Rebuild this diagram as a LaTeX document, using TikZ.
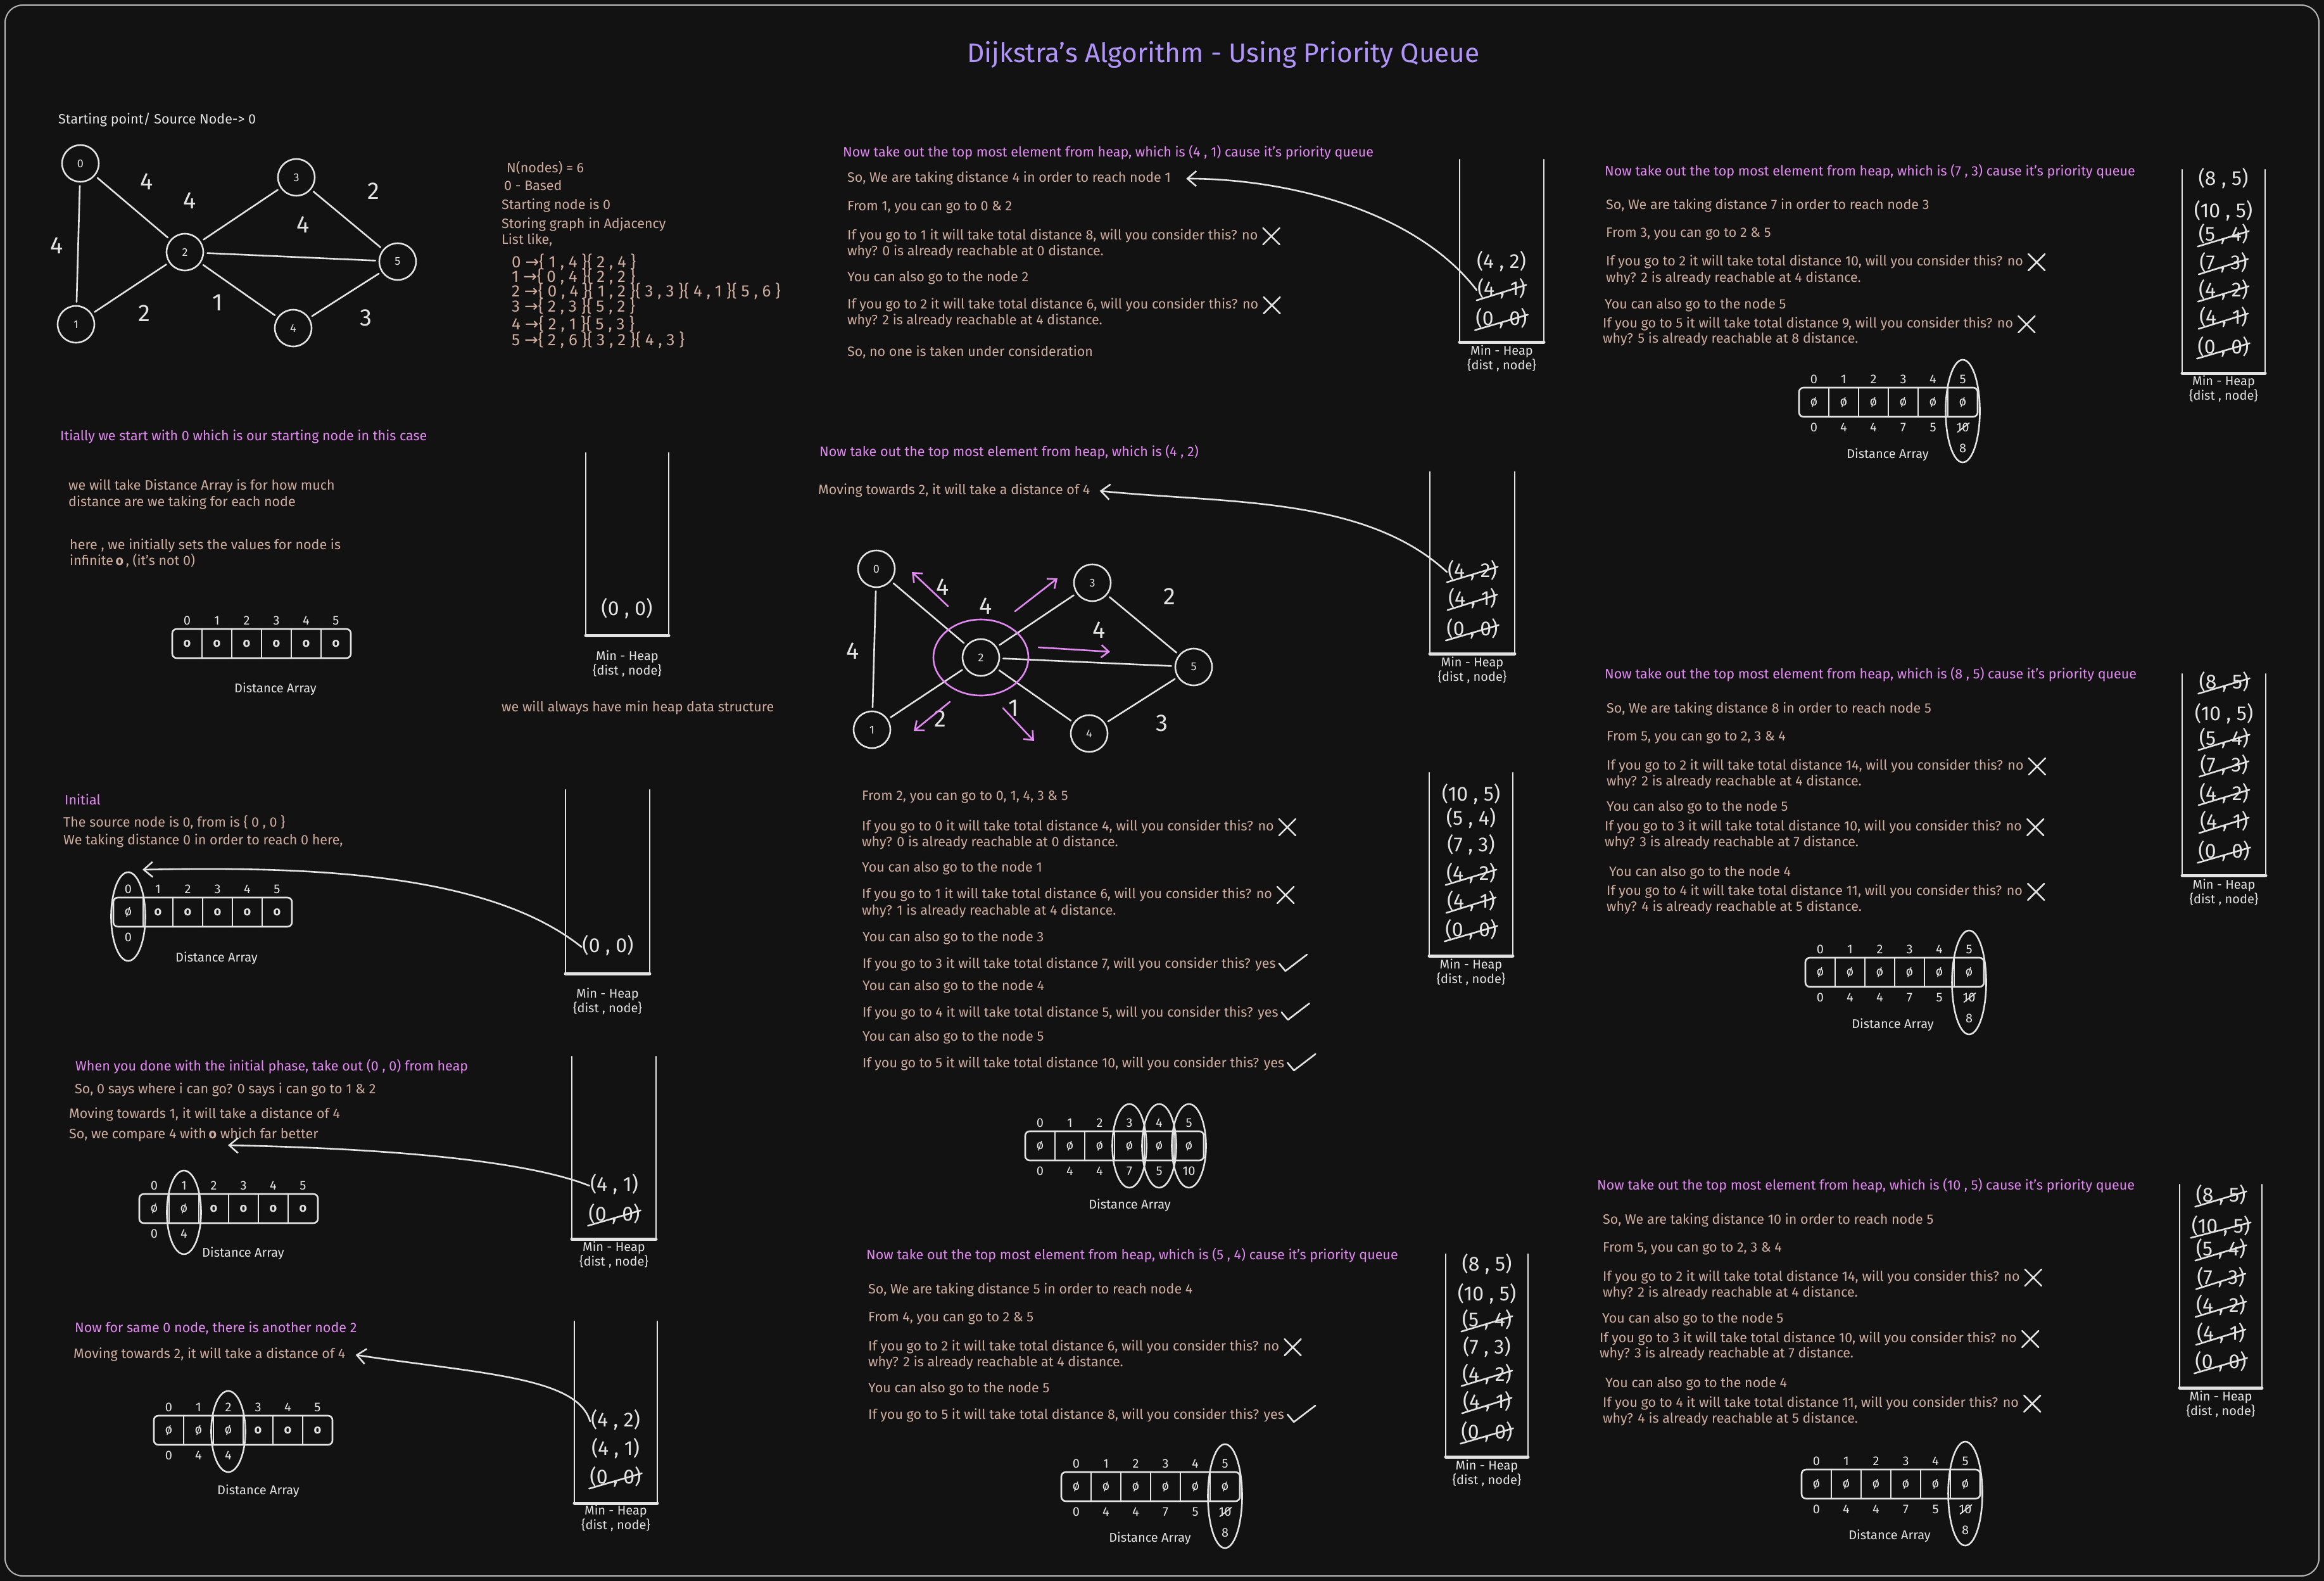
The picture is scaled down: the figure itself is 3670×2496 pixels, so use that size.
\documentclass[tikz,border=0pt]{standalone}
\usepackage{fontspec}
\setmainfont{Fira Sans}
\newfontfamily\symfont{DejaVu Sans}
\usetikzlibrary{positioning,calc,arrows.meta}

\definecolor{board}{HTML}{121212}
\definecolor{chalk}{HTML}{E3E3E3}
\definecolor{sand}{RGB}{206,172,158}
\definecolor{orchid}{RGB}{226,136,242}
\definecolor{lavender}{RGB}{176,148,250}

\newcommand{\infy}{\textbf{o}}
\newcommand{\goesto}{{\symfont →}}

\tikzset{
  chalkline/.style={draw=chalk, line width=2.6pt, line cap=round, line join=round},
  body/.style={anchor=west, inner sep=0pt, text=sand, font=\fontsize{21.5}{26}\selectfont, text height=15pt, text depth=4.5pt},
  head/.style={body, text=orchid},
  whitetxt/.style={body, text=chalk},
  adj/.style={body, font=\fontsize{26}{30}\selectfont},
  headline/.style={text=lavender, font=\fontsize{42.5}{50}\selectfont},
  entry/.style={text=chalk, inner sep=1pt, font=\fontsize{32}{38}\selectfont, text height=23pt, text depth=7pt},
  heaplabel/.style={text=chalk, inner sep=0pt, font=\fontsize{20}{24}\selectfont, text height=14pt, text depth=4pt},
  idx/.style={text=chalk, inner sep=1pt, font=\fontsize{20}{24}\selectfont},
  vertex/.style={circle, draw=chalk, line width=2.6pt, minimum size=58pt, inner sep=0pt, text=chalk, font=\fontsize{18}{20}\selectfont},
  weight/.style={text=chalk, font=\fontsize{38}{44}\selectfont},
  backarrow/.style={chalkline, -{Straight Barb[length=14pt,width=24pt]}},
  pinkarrow/.style={draw=orchid, line width=2.6pt, line cap=round, -{Straight Barb[length=12pt,width=20pt]}},
}

% the six node graph
\newcommand{\sixgraph}[1]{%
  \node[vertex] (#1n0) at (127,258) {0};
  \node[vertex] (#1n1) at (120,512) {1};
  \node[vertex] (#1n2) at (292,398) {2};
  \node[vertex] (#1n3) at (468,280) {3};
  \node[vertex] (#1n4) at (463,518) {4};
  \node[vertex] (#1n5) at (628,413) {5};
  \foreach \u/\v in {0/1,0/2,1/2,2/3,2/4,2/5,3/5,4/5}
    \draw[chalkline, shorten <=5pt, shorten >=5pt] (#1n\u) -- (#1n\v);
  \node[weight] (#1w01) at (90,388) {4};
  \node[weight] (#1w02) at (232,287) {4};
  \node[weight] (#1w23) at (300,317) {4};
  \node[weight] (#1w35) at (590,302) {2};
  \node[weight] (#1w25) at (479,355) {4};
  \node[weight] (#1w12) at (228,495) {2};
  \node[weight] (#1w24) at (344,478) {1};
  \node[weight] (#1w45) at (578,502) {3};
}
% heap container with its caption
\newcommand{\minheap}[6]{% prefix, left x, right x, top y, bottom y, caption y
  \draw[chalkline] (#2,#4) -- (#2,#5) (#3,#4) -- (#3,#5);
  \draw[chalkline, line width=5pt] (#2,#5) -- (#3,#5);
  \node[heaplabel] (#1cap) at ({(#2+#3)/2},#6) {Min - Heap};
  \node[heaplabel, below=5pt of #1cap] (#1sub) {\{dist , node\}};
}
\newcommand{\heapitems}[3]{% prefix, centre x, dist/node/y/struck
  \foreach \dv/\nv/\yv/\sv [count=\k] in {#3} {
    \node[entry] (#1e\k) at (#2,\yv) {(\dv{} , \nv)};
    \ifnum\sv=1
      \draw[chalkline] (#1e\k.south west) -- ($(#1e\k.north east)+(0,8)$);
    \fi
  }
}
% distance array
\newcommand{\distarray}[4]{% prefix, left x, top y, cell values
  \draw[chalkline, rounded corners=7pt] (#2,#3) rectangle ++(282,46);
  \foreach \c [count=\i from 0] in {#4} {
    \node[idx] (#1i\i) at (#2+23.5+47*\i,#3-13) {\i};
    \node[idx] (#1c\i) at (#2+23.5+47*\i,#3+23) {\c};
    \ifnum\i>0 \draw[chalkline] (#2+47*\i,#3) -- ++(0,46);\fi
  }
}
\newcommand{\distvalues}[4]{% prefix, left x, top y, distances
  \foreach \b [count=\i from 0] in {#4}
    \node[idx] (#1b\i) at (#2+23.5+47*\i,#3+63) {\b};
}
\newcommand{\pickcol}[4]{% prefix, column, shift down, y radius
  \draw[chalkline] ($(#1c#2)+(0,#3)$) ellipse [x radius=27, y radius=#4];
}
\newcommand{\fivetoeight}[1]{% 10 crossed out, 8 below
  \draw[chalkline, line width=1.8pt] ($(#1b5.south west)+(3,-1)$) -- ($(#1b5.north east)+(-1,1)$);
  \node[idx] (#1b5new) at ($(#1b5)+(0,33)$) {8};
}
\newcommand{\nomark}[1]{% cross after a line
  \draw[chalkline] ($(#1.east)+(8,-13)$) -- ++(26,26) ($(#1.east)+(8,13)$) -- ++(26,-26);
}
\newcommand{\yesmark}[1]{% tick after a line
  \draw[chalkline] ($(#1.east)+(5,-2)$) -- ++(10,12) -- ++(34,-26);
}

\begin{document}
\begin{tikzpicture}[x=1pt, y=-1pt]
\useasboundingbox (0,0) rectangle (3670,2496);
\fill[board] (0,0) rectangle (3670,2496);
\draw[draw=chalk!80!board, line width=2pt, rounded corners=28pt] (8,8) rectangle (3662,2488);

\node[headline] (title) at (1932,86) {Dijkstra's Algorithm - Using Priority Queue};

% graph and adjacency list
\node[whitetxt] (start) at (92,190) {Starting point/ Source Node-> 0};
\sixgraph{A}
\node[body] (Ak1) at (800,267) {N(nodes) = 6};
\node[body] (Ak2) at (796,295) {0 - Based};
\node[body] (Ak3) at (792,325) {Starting node is 0};
\node[body] (Ak4) at (792,355) {Storing graph in Adjacency};
\node[body] (Ak5) at (792,380) {List like,};
\node[adj] (Al0) at (808,417) {0 \goesto\{ 1 , 4 \}\{ 2 , 4 \}};
\node[adj] (Al1) at (808,440) {1 \goesto\{ 0 , 4 \}\{ 2 , 2 \}};
\node[adj] (Al2) at (808,463) {2 \goesto\{ 0 , 4 \}\{ 1 , 2 \}\{ 3 , 3 \}\{ 4 , 1 \}\{ 5 , 6 \}};
\node[adj] (Al3) at (808,487) {3 \goesto\{ 2 , 3 \}\{ 5 , 2 \}};
\node[adj] (Al4) at (808,515) {4 \goesto\{ 2 , 1 \}\{ 5 , 3 \}};
\node[adj] (Al5) at (808,540) {5 \goesto\{ 2 , 6 \}\{ 3 , 2 \}\{ 4 , 3 \}};

% pop (4,1)
\node[head] (Bh) at (1331,242) {Now take out the top most element from heap, which is (4 , 1) cause it's priority queue};
\node[body] (Bt1) at (1338,282) {So, We are taking distance 4 in order to reach node 1};
\node[body] (Bt2) at (1338,327) {From 1, you can go to 0 \& 2};
\node[body] (Bt3) at (1338,373) {If you go to 1 it will take total distance 8, will you consider this? no};
\node[body] (Bt4) at (1338,398) {why? 0 is already reachable at 0 distance.};
\node[body] (Bt5) at (1338,439) {You can also go to the node 2};
\node[body] (Bt6) at (1338,482) {If you go to 2 it will take total distance 6, will you consider this? no};
\node[body] (Bt7) at (1338,507) {why? 2 is already reachable at 4 distance.};
\node[body] (Bt8) at (1338,557) {So, no one is taken under consideration};
\nomark{Bt3} \nomark{Bt6}
\minheap{B}{2305}{2438}{252}{540}{555}
\heapitems{B}{2371}{4/2/415/0, 4/1/458/1, 0/0/505/1}
\draw[backarrow] (Be2.west) .. controls +(-100,-130) and +(150,0) .. ($(Bt1.east)+(24,0)$);

% pop (7,3)
\node[head] (Ch) at (2534,272) {Now take out the top most element from heap, which is (7 , 3) cause it's priority queue};
\node[body] (Ct1) at (2536,325) {So, We are taking distance 7 in order to reach node 3};
\node[body] (Ct2) at (2536,369) {From 3, you can go to 2 \& 5};
\node[body] (Ct3) at (2536,414) {If you go to 2 it will take total distance 10, will you consider this? no};
\node[body] (Ct4) at (2536,440) {why? 2 is already reachable at 4 distance.};
\node[body] (Ct5) at (2534,482) {You can also go to the node 5};
\node[body] (Ct6) at (2531,512) {If you go to 5 it will take total distance 9, will you consider this? no};
\node[body] (Ct7) at (2531,536) {why? 5 is already reachable at 8 distance.};
\nomark{Ct3} \nomark{Ct6}
\minheap{C}{3446}{3577}{268}{589}{603}
\heapitems{C}{3511}{8/5/285/0, 10/5/336/0, 5/4/373/1, 7/3/417/1, 4/2/460/1, 4/1/503/1, 0/0/550/1}
\distarray{C}{2841}{612}{ø,ø,ø,ø,ø,ø}
\distvalues{C}{2841}{612}{0,4,4,7,5,10}
\fivetoeight{C}
\pickcol{C}{5}{14}{81}
\node[idx] (Clab) at (2981,718) {Distance Array};

% start with node 0
\node[head] (Dh) at (95,690) {Itially we start with 0 which is our starting node in this case};
\node[body] (Dt1) at (108,768) {we will take Distance Array is for how much};
\node[body] (Dt2) at (108,794) {distance are we taking for each node};
\node[body] (Dt3) at (110,862) {here , we initially sets the values for node is};
\node[body] (Dt4) at (110,887) {infinite\,\infy\,, (it's not 0)};
\node[body] (Dt5) at (792,1118) {we will always have min heap data structure};
\minheap{D}{925}{1056}{715}{1003}{1037}
\heapitems{D}{990}{0/0/963/0}
\distarray{D}{272}{993}{\infy,\infy,\infy,\infy,\infy,\infy}
\node[idx] (Dlab) at (435,1088) {Distance Array};

% pop (4,2)
\node[head] (Eh) at (1294,715) {Now take out the top most element from heap, which is (4 , 2)};
\node[body] (Et1) at (1292,775) {Moving towards 2, it will take a distance of 4};
\begin{scope}[shift={(1257,640)}]
  \sixgraph{E}
\end{scope}
\draw[draw=orchid, line width=2.6pt] (En2) ellipse [x radius=75, y radius=60];
\draw[pinkarrow] (1497,957) -- (1440,903);
\draw[pinkarrow] (1603,965) -- (1670,913);
\draw[pinkarrow] (1640,1022) -- (1753,1029);
\draw[pinkarrow] (1500,1108) -- (1443,1154);
\draw[pinkarrow] (1584,1118) -- (1633,1170);
\minheap{E}{2258}{2392}{745}{1032}{1047}
\heapitems{E}{2325}{4/2/903/1, 4/1/947/1, 0/0/995/1}
\draw[backarrow] (Ee1.west) .. controls +(-130,-120) and +(200,20) .. ($(Et1.east)+(15,0)$);

% pop (8,5)
\node[head] (Fh) at (2534,1066) {Now take out the top most element from heap, which is (8 , 5) cause it's priority queue};
\node[body] (Ft1) at (2537,1120) {So, We are taking distance 8 in order to reach node 5};
\node[body] (Ft2) at (2537,1164) {From 5, you can go to 2, 3 \& 4};
\node[body] (Ft3) at (2537,1210) {If you go to 2 it will take total distance 14, will you consider this? no};
\node[body] (Ft4) at (2537,1235) {why? 2 is already reachable at 4 distance.};
\node[body] (Ft5) at (2537,1275) {You can also go to the node 5};
\node[body] (Ft6) at (2534,1306) {If you go to 3 it will take total distance 10, will you consider this? no};
\node[body] (Ft7) at (2534,1331) {why? 3 is already reachable at 7 distance.};
\node[body] (Ft8) at (2541,1378) {You can also go to the node 4};
\node[body] (Ft9) at (2537,1408) {If you go to 4 it will take total distance 11, will you consider this? no};
\node[body] (Ft10) at (2537,1433) {why? 4 is already reachable at 5 distance.};
\nomark{Ft3} \nomark{Ft6} \nomark{Ft9}
\minheap{F}{3446}{3578}{1064}{1382}{1398}
\heapitems{F}{3512}{8/5/1079/1, 10/5/1129/0, 5/4/1168/1, 7/3/1210/1, 4/2/1255/1, 4/1/1299/1, 0/0/1346/1}
\distarray{F}{2851}{1512}{ø,ø,ø,ø,ø,ø}
\distvalues{F}{2851}{1512}{0,4,4,7,5,10}
\fivetoeight{F}
\pickcol{F}{5}{16}{82}
\node[idx] (Flab) at (2989,1618) {Distance Array};

% initial
\node[head] (Gh) at (102,1265) {Initial};
\node[body] (Gt1) at (100,1300) {The source node is 0, from is \{ 0 , 0 \}};
\node[body] (Gt2) at (100,1328) {We taking distance 0 in order to reach 0 here,};
\minheap{G}{893}{1026}{1247}{1537}{1570}
\heapitems{G}{960}{0/0/1495/0}
\distarray{G}{179}{1417}{ø,\infy,\infy,\infy,\infy,\infy}
\distvalues{G}{179}{1417}{0}
\pickcol{G}{0}{7}{70}
\node[idx] (Glab) at (342,1513) {Distance Array};
\coordinate (Gtip) at (225,1373);
\draw[backarrow] (Ge1.west) .. controls +(-150,-120) and +(250,-5) .. (Gtip);

% relax the neighbours of 2
\node[body] (Ht1) at (1361,1258) {From 2, you can go to 0, 1, 4, 3 \& 5};
\node[body] (Ht2) at (1361,1306) {If you go to 0 it will take total distance 4, will you consider this? no};
\node[body] (Ht3) at (1361,1331) {why? 0 is already reachable at 0 distance.};
\node[body] (Ht4) at (1361,1371) {You can also go to the node 1};
\node[body] (Ht5) at (1361,1413) {If you go to 1 it will take total distance 6, will you consider this? no};
\node[body] (Ht6) at (1361,1439) {why? 1 is already reachable at 4 distance.};
\node[body] (Ht7) at (1362,1481) {You can also go to the node 3};
\node[body] (Ht8) at (1362,1523) {If you go to 3 it will take total distance 7, will you consider this? yes};
\node[body] (Ht9) at (1362,1558) {You can also go to the node 4};
\node[body] (Ht10) at (1362,1600) {If you go to 4 it will take total distance 5, will you consider this? yes};
\node[body] (Ht11) at (1362,1638) {You can also go to the node 5};
\node[body] (Ht12) at (1362,1680) {If you go to 5 it will take total distance 10, will you consider this? yes};
\nomark{Ht2} \nomark{Ht5}
\yesmark{Ht8} \yesmark{Ht10} \yesmark{Ht12}
\minheap{H}{2257}{2389}{1220}{1509}{1524}
\heapitems{H}{2323}{10/5/1256/0, 5/4/1294/0, 7/3/1336/0, 4/2/1381/1, 4/1/1425/1, 0/0/1470/1}
\distarray{H}{1619}{1786}{ø,ø,ø,ø,ø,ø}
\distvalues{H}{1619}{1786}{0,4,4,7,5,10}
\pickcol{H}{3}{0}{66} \pickcol{H}{4}{0}{66} \pickcol{H}{5}{0}{66}
\node[idx] (Hlab) at (1784,1903) {Distance Array};

% pop (0,0), go to 1
\node[head] (Ih) at (119,1685) {When you done with the initial phase, take out (0 , 0) from heap};
\node[body] (It1) at (118,1721) {So, 0 says where i can go? 0 says i can go to 1 \& 2};
\node[body] (It2) at (109,1760) {Moving towards 1, it will take a distance of 4};
\node[body] (It3) at (109,1792) {So, we compare 4 with\,\infy\ which far better};
\minheap{I}{903}{1036}{1668}{1956}{1970}
\heapitems{I}{970}{4/1/1872/0, 0/0/1919/1}
\distarray{I}{220}{1885}{ø,ø,\infy,\infy,\infy,\infy}
\distvalues{I}{220}{1885}{0,4}
\pickcol{I}{1}{6}{66}
\node[idx] (Ilab) at (384,1979) {Distance Array};
\coordinate (Itip) at (360,1808);
\draw[backarrow] (Ie1.west) .. controls +(-100,-40) and +(250,5) .. (Itip);

% same node 0, go to 2
\node[head] (Nh) at (118,2098) {Now for same 0 node, there is another node 2};
\node[body] (Nt1) at (116,2139) {Moving towards 2, it will take a distance of 4};
\minheap{N}{907}{1038}{2086}{2373}{2386}
\heapitems{N}{972}{4/2/2244/0, 4/1/2289/0, 0/0/2334/1}
\distarray{N}{243}{2235}{ø,ø,ø,\infy,\infy,\infy}
\distvalues{N}{243}{2235}{0,4,4}
\pickcol{N}{2}{2}{64}
\node[idx] (Nlab) at (408,2354) {Distance Array};
\draw[backarrow] (Ne1.west) .. controls +(-20,-70) and +(200,30) .. ($(Nt1.east)+(16,0)$);

% pop (5,4)
\node[head] (Jh) at (1368,1983) {Now take out the top most element from heap, which is (5 , 4) cause it's priority queue};
\node[body] (Jt1) at (1371,2037) {So, We are taking distance 5 in order to reach node 4};
\node[body] (Jt2) at (1371,2081) {From 4, you can go to 2 \& 5};
\node[body] (Jt3) at (1371,2127) {If you go to 2 it will take total distance 6, will you consider this? no};
\node[body] (Jt4) at (1371,2152) {why? 2 is already reachable at 4 distance.};
\node[body] (Jt5) at (1371,2193) {You can also go to the node 5};
\node[body] (Jt6) at (1371,2235) {If you go to 5 it will take total distance 8, will you consider this? yes};
\nomark{Jt3} \yesmark{Jt6}
\minheap{J}{2283}{2413}{1980}{2300}{2315}
\heapitems{J}{2348}{8/5/1998/0, 10/5/2045/0, 5/4/2086/1, 7/3/2129/0, 4/2/2172/1, 4/1/2215/1, 0/0/2263/1}
\distarray{J}{1676}{2324}{ø,ø,ø,ø,ø,ø}
\distvalues{J}{1676}{2324}{0,4,4,7,5,10}
\fivetoeight{J}
\pickcol{J}{5}{15}{82}
\node[idx] (Jlab) at (1816,2429) {Distance Array};

% pop (10,5)
\node[head] (Kh) at (2522,1873) {Now take out the top most element from heap, which is (10 , 5) cause it's priority queue};
\node[body] (Kt1) at (2531,1927) {So, We are taking distance 10 in order to reach node 5};
\node[body] (Kt2) at (2531,1971) {From 5, you can go to 2, 3 \& 4};
\node[body] (Kt3) at (2531,2017) {If you go to 2 it will take total distance 14, will you consider this? no};
\node[body] (Kt4) at (2531,2042) {why? 2 is already reachable at 4 distance.};
\node[body] (Kt5) at (2530,2083) {You can also go to the node 5};
\node[body] (Kt6) at (2526,2114) {If you go to 3 it will take total distance 10, will you consider this? no};
\node[body] (Kt7) at (2526,2138) {why? 3 is already reachable at 7 distance.};
\node[body] (Kt8) at (2535,2185) {You can also go to the node 4};
\node[body] (Kt9) at (2531,2216) {If you go to 4 it will take total distance 11, will you consider this? no};
\node[body] (Kt10) at (2531,2241) {why? 4 is already reachable at 5 distance.};
\nomark{Kt3} \nomark{Kt6} \nomark{Kt9}
\minheap{K}{3442}{3572}{1870}{2191}{2206}
\heapitems{K}{3507}{8/5/1889/1, 10/5/1938/1, 5/4/1974/1, 7/3/2019/1, 4/2/2063/1, 4/1/2107/1, 0/0/2152/1}
\distarray{K}{2845}{2320}{ø,ø,ø,ø,ø,ø}
\distvalues{K}{2845}{2320}{0,4,4,7,5,10}
\fivetoeight{K}
\pickcol{K}{5}{15}{82}
\node[idx] (Klab) at (2984,2425) {Distance Array};
\end{tikzpicture}
\end{document}
